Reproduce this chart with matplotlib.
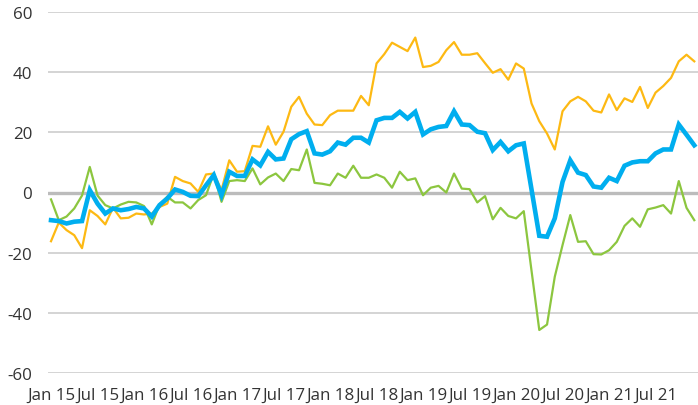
import numpy as np
import pandas as pd
import matplotlib
matplotlib.use("Agg")
import matplotlib.pyplot as plt

plt.rcParams['font.family'] = ['Open Sans', 'DejaVu Sans']
plt.rcParams['axes.unicode_minus'] = False

# monthly data, Jan 2015 - Dec 2021
months = pd.date_range('2015-01-01', periods=84, freq='MS')

yellow = [-16.2, -10, -12.5, -14.2, -18.5, -5.9, -7.8, -10.6, -5.1, -8.6, -8.4, -7,
          -7.3, -7, -4.8, -3.7, 5.2, 3.8, 3, 0.2, 6, 6.3, 0.8, 10.7,
          6.9, 7.1, 15.5, 15.2, 22, 15.9, 20.2, 28.5, 31.8, 26.2, 22.6, 22.4,
          25.7, 27.2, 27.2, 27.2, 32.1, 29, 42.9, 46, 49.8, 48.4, 47, 51.5,
          41.7, 42.1, 43.4, 47.3, 50, 45.8, 45.8, 46.3, 43, 39.8, 41, 37.5,
          42.9, 41.2, 29.6, 23.7, 19.6, 14.3, 27, 30.3, 31.8, 30.3, 27.2, 26.6,
          32.6, 27.4, 31.3, 30.1, 35.1, 28.1, 33.2, 35.4, 38.1, 43.6, 45.8, 43.6]

blue = [-9.2, -9.5, -10.3, -9.7, -9.5, 0.8, -3.7, -7, -5.3, -5.9, -5.5, -4.8,
        -5.3, -8, -4.2, -2, 1, 0.2, -1.1, -1.2, 2.4, 5.8, -0.9, 6.9,
        5.5, 5.5, 11, 9, 13.5, 11, 11.3, 17.7, 19.4, 20.4, 13, 12.6,
        13.7, 16.6, 15.9, 18.2, 18.2, 16.6, 24, 24.8, 24.8, 26.8, 24.6, 26.8,
        19.3, 21, 21.8, 22.1, 27, 22.6, 22.4, 20.2, 19.7, 14.1, 16.8, 13.7,
        15.7, 16.3, 1, -14.4, -14.7, -8.6, 3.5, 10.7, 6.6, 5.8, 2, 1.6,
        4.9, 3.8, 8.9, 10, 10.4, 10.4, 13, 14.3, 14.3, 22.6, 19.2, 15.7]

green = [-2.3, -9.2, -8, -5.3, -1, 8.5, -1, -4.2, -5.3, -4, -3.1, -3.3,
         -4.5, -10.6, -4, -1.4, -3.3, -3.3, -5.3, -2.5, -0.9, 6.3, -3.1, 3.8,
         4.1, 3.8, 8, 2.7, 5, 6.3, 3.8, 7.8, 7.4, 14.3, 3.2, 2.9,
         2.4, 6.3, 4.9, 8.9, 4.9, 4.9, 6, 4.9, 1.6, 6.9, 4.1, 4.7,
         -0.9, 1.6, 2.2, 0, 6.3, 1.3, 1.1, -3.3, -1.2, -8.9, -5.1, -7.8,
         -8.6, -6.2, -26, -45.7, -43.9, -28, -17.5, -7.5, -16.4, -16.2, -20.5, -20.6,
         -19.2, -16.4, -11.1, -8.6, -11.4, -5.6, -5, -4.2, -7, 3.8, -5.1, -9.2]

x = np.arange(len(months))
tick_pos = x[::6]
tick_labels = [f"{m:%b %y}" for m in months[::6]]

fig = plt.figure(figsize=(6.98, 4.06), dpi=100)
ax = fig.add_axes([48/698, 32/406, 650/698, 361/406])

ax.set_ylim(-60, 60)
ax.set_xlim(-0.39, 83.48)
ax.set_yticks([-60, -40, -20, 0, 20, 40, 60])
ax.set_xticks(tick_pos)
ax.set_xticklabels(tick_labels)

for v in [-60, -40, -20, 20, 40, 60]:
    ax.axhline(v, color='#c9c9c9', lw=1.1, zorder=0)
ax.axhline(0, color='#bcbcbc', lw=2.4, zorder=1)

ax.plot(x, yellow, color='#fdb913', lw=1.6, zorder=3)
ax.plot(x, green, color='#8cc63f', lw=1.6, zorder=3)
ax.plot(x, blue, color='#00aeef', lw=3.3, zorder=4, solid_joinstyle='miter')

for s in ax.spines.values():
    s.set_visible(False)
ax.tick_params(length=0, labelsize=12.2, colors='#333333')
ax.tick_params(axis='y', pad=11.5)
ax.tick_params(axis='x', pad=10)

fig.savefig('out.png', dpi=100)
